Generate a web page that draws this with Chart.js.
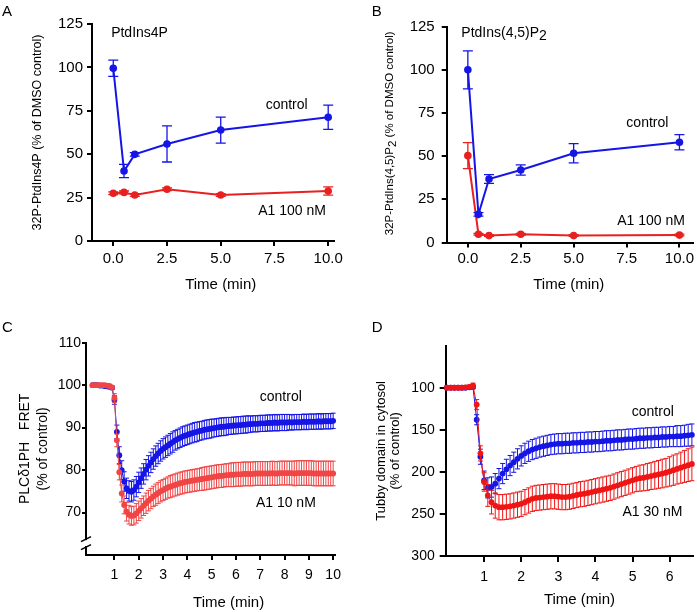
<!DOCTYPE html>
<html>
<head>
<meta charset="utf-8">
<script src="https://cdn.jsdelivr.net/npm/chart.js@4.4.0/dist/chart.umd.min.js"></script>
<style>
  body { margin: 0; background: #fff; width: 697px; height: 612px; position: relative; overflow: hidden; }
  canvas { position: absolute; }
</style>
</head>
<body>
<canvas id="chartA" width="348" height="300" style="left:0;top:0"></canvas>
<canvas id="chartB" width="348" height="300" style="left:349px;top:0"></canvas>
<canvas id="chartC" width="348" height="312" style="left:0;top:300px"></canvas>
<canvas id="chartD" width="348" height="312" style="left:349px;top:300px"></canvas>
<script>
// ---- data ----
const timesAB = [0, 0.5, 1, 2.5, 5, 10];
const ctrlA = [99.5, 40.3, 49.9, 55.9, 63.9, 71.3];
const ctrlAErr = [4.7, 3.8, 1, 10.4, 7.5, 7];
const a1A = [27.5, 28, 26.5, 29.8, 26.5, 28.8];
const a1AErr = [0.8, 0.8, 0.8, 0.8, 0.8, 2.4];

const ctrlB = [100, 16.3, 36.8, 42, 51.7, 58.1];
const ctrlBErr = [11, 1, 2.5, 3, 5.6, 4.4];
const a1B = [50.3, 4.8, 4, 4.8, 4, 4.3];
const a1BErr = [7.5, 0.5, 0.5, 0.5, 0.5, 0.5];

const xTicksAB = [0, 2.5, 5, 7.5, 10];
const yTicksAB = [0, 25, 50, 75, 100, 125];

const timesC = [0.1,0.2,0.3,0.4,0.5,0.6,0.7,0.8,0.9,
  1.0,1.1,1.2,1.3,1.4,1.5,1.6,1.7,1.8,1.9,
  2.0,2.1,2.2,2.3,2.4,2.5,2.6,2.7,2.8,2.9,
  3.0,3.1,3.2,3.3,3.4,3.5,3.6,3.7,3.8,3.9,
  4.0,4.1,4.2,4.3,4.4,4.5,4.6,4.7,4.8,4.9,
  5.0,5.1,5.2,5.3,5.4,5.5,5.6,5.7,5.8,5.9,
  6.0,6.1,6.2,6.3,6.4,6.5,6.6,6.7,6.8,6.9,
  7.0,7.1,7.2,7.3,7.4,7.5,7.6,7.7,7.8,7.9,
  8.0,8.1,8.2,8.3,8.4,8.5,8.6,8.7,8.8,8.9,
  9.0,9.1,9.2,9.3,9.4,9.5,9.6,9.7,9.8,9.9,
  10.0];
const ctrlC = [100,100,100,99.9,99.9,99.8,99.7,99.6,99.4,
  96.5,89,83.5,80,77.3,75.7,75.1,74.9,75.3,76.1,
  77.1,78.1,79.1,80.1,81.0,81.8,82.6,83.3,83.9,84.5,
  85.0,85.4,85.8,86.2,86.6,87.0,87.3,87.6,87.9,88.1,
  88.3,88.5,88.7,88.9,89.0,89.2,89.3,89.5,89.6,89.7,
  89.8,89.9,90.0,90.1,90.2,90.2,90.3,90.4,90.4,90.5,
  90.5,90.6,90.6,90.7,90.7,90.8,90.8,90.9,90.9,90.9,
  91.0,91.0,91.0,91.1,91.1,91.1,91.2,91.1,91.2,91.2,
  91.2,91.2,91.3,91.2,91.3,91.3,91.3,91.3,91.4,91.3,
  91.4,91.4,91.4,91.4,91.5,91.4,91.5,91.5,91.5,91.5,
  91.6];
const ctrlCErr = [0.3,0.3,0.3,0.3,0.3,0.3,0.3,0.3,0.4,
  1.0,1.6,2.0,2.2,2.3,2.4,2.4,2.4,2.4,2.4,
  2.4,2.4,2.4,2.4,2.4,2.4,2.4,2.4,2.4,2.4,
  2.4,2.4,2.4,2.4,2.4,2.3,2.3,2.3,2.3,2.3,
  2.3,2.3,2.3,2.3,2.3,2.2,2.2,2.2,2.2,2.2,
  2.2,2.1,2.1,2.1,2.1,2.1,2.1,2.0,2.0,2.0,
  2.0,2.0,2.0,2.0,2.0,2.0,1.9,1.9,1.9,1.9,
  1.9,1.9,1.9,1.9,1.9,1.9,1.9,1.9,1.9,1.9,
  1.9,1.9,1.8,1.8,1.8,1.8,1.8,1.8,1.8,1.8,
  1.8,1.8,1.8,1.8,1.8,1.8,1.8,1.8,1.8,1.8,
  1.8];
const a1C = [100,100,100,100,100,100,99.9,99.8,99.5,
  97,87,79.5,74.5,71.8,70.2,69.5,69.2,69.3,69.8,
  70.4,71.0,71.6,72.2,72.8,73.3,73.8,74.2,74.6,75.0,
  75.3,75.6,75.9,76.1,76.3,76.5,76.7,76.9,77.0,77.2,
  77.3,77.4,77.5,77.6,77.7,77.8,77.9,78.0,78.1,78.2,
  78.3,78.4,78.5,78.6,78.6,78.7,78.8,78.8,78.9,78.9,
  79.0,79.0,79.0,79.1,79.1,79.1,79.1,79.1,79.2,79.2,
  79.2,79.2,79.2,79.2,79.2,79.3,79.2,79.2,79.3,79.3,
  79.3,79.3,79.3,79.3,79.2,79.3,79.3,79.3,79.3,79.3,
  79.3,79.3,79.2,79.2,79.2,79.2,79.2,79.2,79.2,79.2,
  79.2];
const a1CErr = [0.3,0.3,0.3,0.3,0.3,0.3,0.3,0.3,0.4,
  1.0,1.5,1.8,2.0,2.1,2.2,2.2,2.2,2.2,2.3,
  2.3,2.3,2.3,2.4,2.4,2.4,2.4,2.5,2.5,2.5,
  2.5,2.5,2.5,2.6,2.6,2.6,2.6,2.6,2.6,2.6,
  2.6,2.6,2.6,2.6,2.6,2.6,2.7,2.7,2.7,2.7,
  2.7,2.7,2.7,2.7,2.7,2.7,2.7,2.7,2.8,2.8,
  2.8,2.8,2.8,2.8,2.8,2.8,2.8,2.8,2.8,2.8,
  2.8,2.8,2.8,2.8,2.8,2.8,2.8,2.8,2.8,2.8,
  2.8,2.8,2.8,2.8,2.9,2.9,2.9,2.9,2.9,2.9,
  2.9,2.9,2.9,2.9,2.9,2.9,2.9,2.9,2.9,2.9,
  2.9];
const xTicksC = [1, 2, 3, 4, 5, 6, 7, 8, 9, 10];
const yTicksC = [70, 80, 90, 100, 110];

const timesD = [0.0,0.1,0.2,0.3,0.4,0.5,0.6,0.7,
  0.8,0.9,1.0,1.1,1.2,1.3,1.4,1.5,1.6,1.7,
  1.8,1.9,2.0,2.1,2.2,2.3,2.4,2.5,2.6,2.7,
  2.8,2.9,3.0,3.1,3.2,3.3,3.4,3.5,3.6,3.7,
  3.8,3.9,4.0,4.1,4.2,4.3,4.4,4.5,4.6,4.7,
  4.8,4.9,5.0,5.1,5.2,5.3,5.4,5.5,5.6,5.7,
  5.8,5.9,6.0,6.1,6.2,6.3,6.4,6.5,6.6];
const ctrlD = [100,100,100,100,100,100,99.5,99,
  138,182,210,219,218,214,208,202,197,192.5,
  188.5,184.5,181,178,175.5,173.5,172,170.5,169.5,168.5,
  167.5,167,166.5,166.5,166,166,165.5,165.5,165,165,
  164.5,164.5,164,164,163.5,163,163,162.5,162,162,
  161.5,161,161,160.5,160,160,159.5,159.5,159,159,
  158.5,158.5,158,158,157.5,157.5,157,156.5,156];
const ctrlDErr = [2,2,2,2,2,2,2,2,
  6,9,11,12,12,12,12,12,12,12,
  12,12,12,12,12,12,12,12,12,12,
  12,12,12,12,12,12,12,12,12,12,
  12,12,12,12,12,12,12,12,12,12,
  12,12,12,12,12,12,12,12,12,12,
  12,12,12,12,12.5,12.5,12.5,13,13];
const a1D = [100,100,100,100,100,99.5,99,97.5,
  120,178,212,228,236,240,242,242,241.5,241,
  240,239,238,236,234,232,231,230.5,230,229.5,
  229,229,229.5,230,230,229.5,228.5,227.5,226.5,226,
  225,224,223,222,221,220,219,217.5,216,214.5,
  213,211.5,210,208.5,207.5,207,206,205,204,203,
  202,201,199.5,198,196.5,195,193.5,192,190.5];
const a1DErr = [2,2,2,2,2,2,2,3,
  6,9,11,13,14,15,15,15,15,15,
  15,15,15,15,15,15,15,15,15,15,
  15,15,15,15,15,15,15,15,15,15,
  15,15,15,15,15,15,15,15,15,15,
  15,15,15,15,15.5,15.5,16,16,16.5,16.5,
  17,17,17.5,18,18,18.5,19,19.5,20];
const xTicksD = [1, 2, 3, 4, 5, 6];
const yTicksD = [100, 150, 200, 250, 300];

// ---- drawing helpers ----
const FONT = '"Liberation Sans", Arial, sans-serif';
Chart.defaults.font.family = FONT;
const BLUE = '#1515e6';

const pts = (xs, ys) => xs.map((x, i) => ({ x, y: ys[i] }));

const errorBars = {
  id: 'errorBars',
  beforeDatasetDraw(chart, args) {
    const ds = chart.data.datasets[args.index];
    if (!ds.errors) return;
    const ctx = chart.ctx, xs = chart.scales.x, ys = chart.scales.y;
    ctx.save();
    ctx.strokeStyle = ds.borderColor;
    ctx.lineWidth = ds.errorWidth;
    ctx.beginPath();
    ds.data.forEach((p, i) => {
      const e = ds.errors[i];
      const px = xs.getPixelForValue(p.x);
      const t = ys.getPixelForValue(p.y + e), b = ys.getPixelForValue(p.y - e);
      ctx.moveTo(px, t); ctx.lineTo(px, b);
      ctx.moveTo(px - ds.capHalf, t); ctx.lineTo(px + ds.capHalf, t);
      ctx.moveTo(px - ds.capHalf, b); ctx.lineTo(px + ds.capHalf, b);
    });
    ctx.stroke();
    ctx.restore();
  }
};

function drawParts(ctx, parts, x, y) {
  parts.forEach(p => {
    ctx.fillText(p.t, x, y + (p.dy || 0));
    x += ctx.measureText(p.t).width;
  });
}

function panelText(o) {
  return {
    id: 'panelText',
    afterDraw(chart) {
      const ctx = chart.ctx, xs = chart.scales.x, ys = chart.scales.y;
      ctx.save();
      ctx.fillStyle = '#000';
      ctx.textBaseline = 'middle';
      ctx.textAlign = 'left';
      ctx.font = '15px ' + FONT;
      ctx.fillText(o.letter[0], o.letter[1], o.letter[2]);

      ctx.textAlign = 'center';
      ctx.font = '15px ' + FONT;
      ctx.fillText('Time (min)', xs.getPixelForValue(o.xTitle[0]), o.xTitle[1]);

      ctx.textAlign = 'left';
      ctx.font = o.noteFont + 'px ' + FONT;
      o.notes.forEach(n => drawParts(ctx, n.parts, xs.getPixelForValue(n.x), ys.getPixelForValue(n.y)));

      if (o.yTitle) {
        ctx.font = o.yTitle.size + 'px ' + FONT;
        ctx.translate(o.yTitle.x, o.yTitle.y);
        ctx.rotate(-Math.PI / 2);
        const w = o.yTitle.parts.reduce((s, p) => s + ctx.measureText(p.t).width, 0);
        drawParts(ctx, o.yTitle.parts, -w / 2, 0);
        ctx.setTransform(1, 0, 0, 1, 0, 0);
      }

      if (o.brk != null) {
        const ax = chart.chartArea.left, py = ys.getPixelForValue(o.brk);
        ctx.fillStyle = '#fff';
        ctx.fillRect(ax - 3, py - 3, 6, 6);
        ctx.strokeStyle = '#000';
        ctx.lineWidth = 1.6;
        ctx.beginPath();
        ctx.moveTo(ax - 5, py - 1.5); ctx.lineTo(ax + 5, py - 6.5);
        ctx.moveTo(ax - 5, py + 6.5); ctx.lineTo(ax + 5, py + 1.5);
        ctx.stroke();
      }
      ctx.restore();
    }
  };
}

function axis(o) {
  return {
    type: 'linear',
    min: o.min, max: o.max, reverse: !!o.reverse,
    grid: { drawOnChartArea: false, drawTicks: true, tickLength: o.tickLen, lineWidth: 2, color: '#000' },
    border: { color: '#000', width: 2 },
    ticks: { color: '#000', font: { size: o.font }, padding: o.pad, maxRotation: 0, callback: o.fmt },
    afterBuildTicks: s => { s.ticks = o.ticks.map(v => ({ value: v })); },
    afterFit: s => { if (o.horiz) s.height = o.size; else s.width = o.size; },
    title: o.title || { display: false }
  };
}

function series(data, errors, color, o) {
  return Object.assign({
    data, errors, borderColor: color, backgroundColor: color,
    pointBackgroundColor: color, pointBorderWidth: 0,
    tension: 0, clip: false
  }, o);
}

function makeChart(id, datasets, padding, xAxis, yAxis, text) {
  return new Chart(document.getElementById(id), {
    type: 'line',
    data: { datasets },
    options: {
      responsive: false, animation: false, devicePixelRatio: 1,
      layout: { padding },
      plugins: { legend: { display: false }, tooltip: { enabled: false } },
      scales: { x: xAxis, y: yAxis }
    },
    plugins: [errorBars, panelText(text)]
  });
}

// ---- A ----
const RED_AB = '#e82020';
const bigPt = { borderWidth: 2, pointRadius: 3.8, errorWidth: 1.3, capHalf: 5 };
makeChart('chartA',
  [series(pts(timesAB, ctrlA), ctrlAErr, BLUE, Object.assign({ order: 1 }, bigPt)),
   series(pts(timesAB, a1A), a1AErr, RED_AB, Object.assign({ order: 0 }, bigPt))],
  { top: 24, right: 14, bottom: 0, left: 0 },
  axis({ horiz: true, min: -0.99, max: 10.27, ticks: xTicksAB, size: 59, tickLen: 5, pad: 4, font: 15, fmt: v => v.toFixed(1) }),
  axis({ min: 0, max: 125, ticks: yTicksAB, size: 92, tickLen: 5, pad: 4, font: 15, fmt: v => String(v),
    title: { display: true, text: '32P-PtdIns4P (% of DMSO control)', color: '#000', font: { size: 12.5, lineHeight: 1.2 }, padding: { top: 29.8, bottom: 0 } } }),
  { letter: ['A', 2, 12], xTitle: [5.0, 285], noteFont: 14,
    notes: [
      { x: -0.1, y: 119.8, parts: [{ t: 'PtdIns4P' }] },
      { x: 7.09, y: 78.3, parts: [{ t: 'control' }] },
      { x: 6.74, y: 17.3, parts: [{ t: 'A1 100 nM' }] }
    ] }
);

// ---- B ----
makeChart('chartB',
  [series(pts(timesAB, ctrlB), ctrlBErr, BLUE, Object.assign({ order: 0 }, bigPt)),
   series(pts(timesAB, a1B), a1BErr, RED_AB, Object.assign({ order: 1 }, bigPt))],
  { top: 26.7, right: 0, bottom: 0, left: 0 },
  axis({ horiz: true, min: -1.0, max: 10.64, ticks: xTicksAB, size: 57.5, tickLen: 5, pad: 2, font: 15, fmt: v => v.toFixed(1) }),
  axis({ min: 0, max: 125, ticks: yTicksAB, size: 97.7, tickLen: 5, pad: 7, font: 15, fmt: v => String(v) }),
  { letter: ['B', 22.7, 12], xTitle: [4.77, 285], noteFont: 14,
    notes: [
      { x: -0.31, y: 121.3, parts: [{ t: 'PtdIns(4,5)P' }, { t: '2', dy: 3 }] },
      { x: 7.49, y: 69.1, parts: [{ t: 'control' }] },
      { x: 7.06, y: 12.6, parts: [{ t: 'A1 100 nM' }] }
    ],
    yTitle: { x: 41, y: 133.3, size: 11.5, parts: [{ t: '32P-PtdIns(4,5)P' }, { t: '2', dy: 2.5 }, { t: ' (% of DMSO control)' }] } }
);

// ---- C ----
const RED_C = '#f04545';
const smallPt = { borderWidth: 1, pointRadius: 2.9, errorWidth: 1, capHalf: 2.5 };
makeChart('chartC',
  [series(pts(timesC, ctrlC), ctrlCErr, BLUE, Object.assign({ order: 1 }, smallPt)),
   series(pts(timesC, a1C), a1CErr, RED_C, Object.assign({ order: 0 }, smallPt))],
  { top: 42.7, right: 8, bottom: 0, left: 0 },
  axis({ horiz: true, min: -0.17, max: 10.07, ticks: xTicksC, size: 57, tickLen: 5, pad: 7, font: 14, fmt: v => String(v) }),
  axis({ min: 60, max: 110, ticks: yTicksC, size: 86, tickLen: 4, pad: 1, font: 14, fmt: v => String(v),
    title: { display: true, text: ['PLC\u03b41PH   FRET', '(% of control)'], color: '#000', font: { size: 14, lineHeight: 1.3 }, padding: { top: 15.9, bottom: 0 } } }),
  { letter: ['C', 2, 28.3], xTitle: [5.7, 302.7], noteFont: 14, brk: 62.8,
    notes: [
      { x: 6.98, y: 97.1, parts: [{ t: 'control' }] },
      { x: 6.82, y: 72.3, parts: [{ t: 'A1 10 nM' }] }
    ] }
);

// ---- D ----
const RED_D = '#f01515';
makeChart('chartD',
  [series(pts(timesD, ctrlD), ctrlDErr, BLUE, Object.assign({ order: 1 }, smallPt)),
   series(pts(timesD, a1D), a1DErr, RED_D, Object.assign({ order: 0 }, smallPt))],
  { top: 45.7, right: 2.7, bottom: 0, left: 0 },
  axis({ horiz: true, min: -0.035, max: 6.63, ticks: xTicksD, size: 56, tickLen: 6, pad: 7, font: 14, fmt: v => String(v) }),
  axis({ min: 50, max: 300, reverse: true, ticks: yTicksD, size: 96.7, tickLen: 6, pad: 5, font: 14, fmt: v => String(v),
    title: { display: true, text: ['Tubby domain in cytosol', '(% of control)'], color: '#000', font: { size: 13, lineHeight: 1.1 }, padding: { top: 24.8, bottom: 0 } } }),
  { letter: ['D', 22.7, 28.3], xTitle: [3.57, 300], noteFont: 14,
    notes: [
      { x: 4.98, y: 129.2, parts: [{ t: 'control' }] },
      { x: 4.73, y: 248, parts: [{ t: 'A1 30 nM' }] }
    ] }
);
</script>
</body>
</html>
